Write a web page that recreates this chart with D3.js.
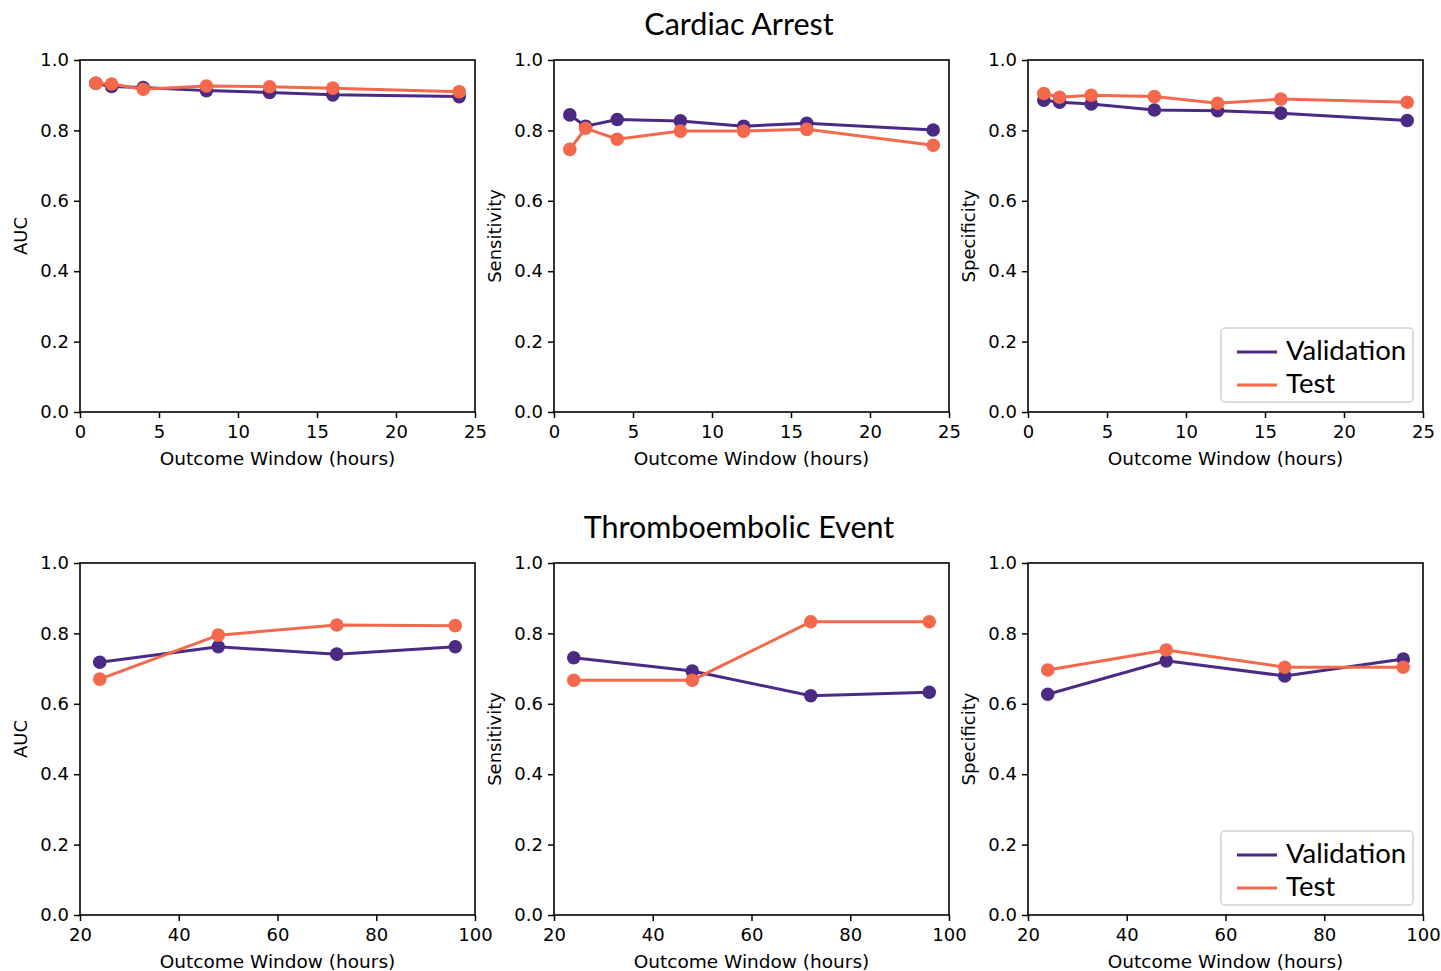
<!doctype html>
<html lang="en">
<head>
<meta charset="utf-8">
<title>Outcome window metrics</title>
<script src="https://cdn.jsdelivr.net/npm/d3@7"></script>
<style>
  body { margin: 0; background: #fff; }
  .tick text { font-family: "DejaVu Sans", sans-serif; font-size: 18px; fill: #000; }
  .tick line { stroke: #000; stroke-width: 1.5; }
  .domain { display: none; }
</style>
</head>
<body>
<div id="chart"></div>
<script>
// x positions (hours)
var caHours = [1, 2, 4, 8, 12, 16, 24];
var teHours = [24, 48, 72, 96];

// Cardiac Arrest
var caAucVal  = [0.934, 0.925, 0.922, 0.913, 0.908, 0.901, 0.896];
var caAucTest = [0.934, 0.932, 0.917, 0.926, 0.924, 0.920, 0.910];
var caSenVal  = [0.844, 0.812, 0.831, 0.827, 0.812, 0.820, 0.801];
var caSenTest = [0.746, 0.806, 0.775, 0.798, 0.798, 0.803, 0.758];
var caSpeVal  = [0.886, 0.880, 0.875, 0.858, 0.856, 0.849, 0.828];
var caSpeTest = [0.905, 0.894, 0.900, 0.896, 0.877, 0.889, 0.880];

// Thromboembolic Event
var teAucVal  = [0.718, 0.762, 0.741, 0.762];
var teAucTest = [0.670, 0.795, 0.824, 0.822];
var teSenVal  = [0.731, 0.693, 0.623, 0.633];
var teSenTest = [0.667, 0.667, 0.833, 0.833];
var teSpeVal  = [0.627, 0.722, 0.679, 0.727];
var teSpeTest = [0.696, 0.753, 0.704, 0.704];

var rowTitles = ["Cardiac Arrest", "Thromboembolic Event"];
var metricNames = ["AUC", "Sensitivity", "Specificity"];
var seriesNames = ["Validation", "Test"];
var caXTicks = [0, 5, 10, 15, 20, 25];
var teXTicks = [20, 40, 60, 80, 100];
var yTicks = [0.0, 0.2, 0.4, 0.6, 0.8, 1.0];

var colors = ["#4b2a84", "#f4684b"];

var W = 1441, H = 971;
var colX = [80, 554, 1028], rowY = [60, 563];
var pw = 395, ph = 352;

var svg = d3.select("#chart").append("svg").attr("width", W).attr("height", H);

var rows = [
  { hours: caHours, domain: [0, 25], ticks: caXTicks,
    data: [[caAucVal, caAucTest], [caSenVal, caSenTest], [caSpeVal, caSpeTest]] },
  { hours: teHours, domain: [20, 100], ticks: teXTicks,
    data: [[teAucVal, teAucTest], [teSenVal, teSenTest], [teSpeVal, teSpeTest]] }
];

rows.forEach(function(row, r) {
  svg.append("text")
    .attr("x", 739).attr("y", rowY[r] - 25)
    .attr("text-anchor", "middle")
    .attr("font-family", "Lato, sans-serif")
    .attr("font-size", "30.5px")
    .text(rowTitles[r]);

  row.data.forEach(function(pair, c) {
    var g = svg.append("g").attr("transform", "translate(" + colX[c] + "," + rowY[r] + ")");
    var x = d3.scaleLinear().domain(row.domain).range([0, pw]);
    var y = d3.scaleLinear().domain([0, 1]).range([ph, 0]);

    g.append("g").attr("transform", "translate(0," + ph + ")")
      .call(d3.axisBottom(x).tickValues(row.ticks).tickSize(6).tickPadding(7).tickFormat(d3.format("d")));
    g.append("g")
      .call(d3.axisLeft(y).tickValues(yTicks).tickSize(6).tickPadding(5).tickFormat(d3.format(".1f")));

    var line = d3.line().x(function(d, i) { return x(row.hours[i]); }).y(function(d) { return y(d); });

    pair.forEach(function(vals, s) {
      g.append("path").datum(vals)
        .attr("fill", "none").attr("stroke", colors[s]).attr("stroke-width", 3)
        .attr("d", line);
      g.selectAll(null).data(vals).enter().append("circle")
        .attr("cx", function(d, i) { return x(row.hours[i]); })
        .attr("cy", function(d) { return y(d); })
        .attr("r", 6.8)
        .attr("fill", colors[s]);
    });

    // frame
    g.append("rect").attr("width", pw).attr("height", ph)
      .attr("fill", "none").attr("stroke", "#000").attr("stroke-width", 1.6);

    g.append("text")
      .attr("x", pw / 2).attr("y", ph + 53)
      .attr("text-anchor", "middle")
      .attr("font-family", "DejaVu Sans, sans-serif").attr("font-size", "18.5px")
      .text("Outcome Window (hours)");

    g.append("text")
      .attr("transform", "translate(-60," + (ph / 2) + ") rotate(-90)")
      .attr("text-anchor", "middle").attr("dominant-baseline", "central")
      .attr("font-family", "DejaVu Sans, sans-serif").attr("font-size", "18px")
      .text(metricNames[c]);

    if (c === 2) {
      var lg = g.append("g").attr("transform", "translate(" + (pw - 202) + "," + (ph - 84) + ")");
      lg.append("rect").attr("width", 192).attr("height", 74).attr("rx", 4)
        .attr("fill", "#fff").attr("fill-opacity", 0.8)
        .attr("stroke", "#d0d0d0").attr("stroke-width", 1.5);
      seriesNames.forEach(function(name, s) {
        var yy = 24 + s * 33;
        lg.append("line").attr("x1", 16).attr("x2", 56).attr("y1", yy).attr("y2", yy)
          .attr("stroke", colors[s]).attr("stroke-width", 3);
        lg.append("text").attr("x", 65).attr("y", yy + 8)
          .attr("font-family", "Lato, sans-serif").attr("font-size", "27.5px")
          .text(name);
      });
    }
  });
});
</script>
</body>
</html>
